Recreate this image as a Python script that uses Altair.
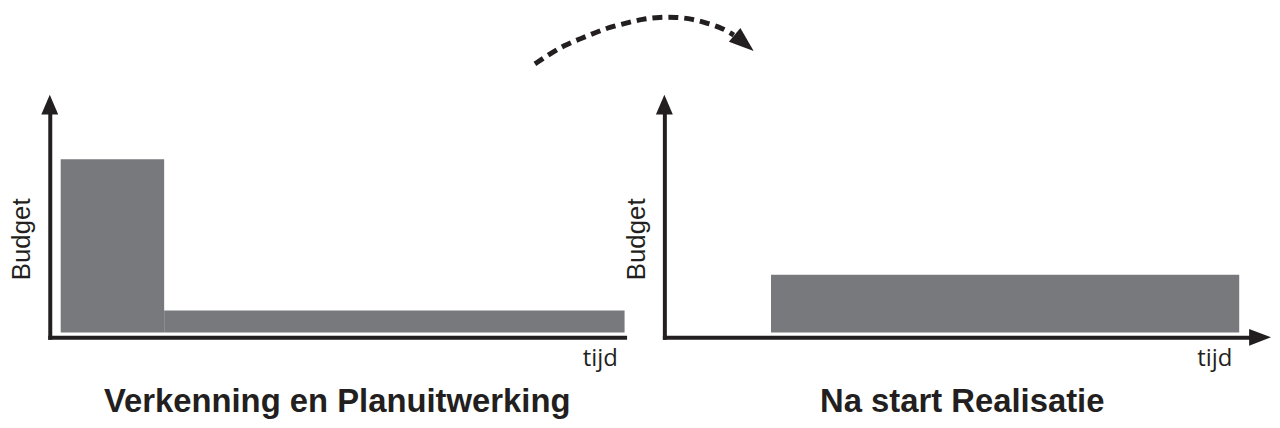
import altair as alt
import pandas as pd

INK = "#231f20"
GRAY = "#77797c"

# ---- data (time 0-100 along each x axis, budget 0-100 along each y axis) ----
left_t0 = [1.9, 19.9]
left_t1 = [19.9, 100.0]
left_b1 = [76.5, 11.5]
base_b = 2.1

right_t0 = [17.9]
right_t1 = [96.5]
right_b1 = [26.9]

# dashed arc (in left-panel units, running above the plots toward the right panel)
arc_t = [84.4, 87.0, 89.6, 92.2, 94.8, 97.4, 100.3, 103.1, 106.1, 109.0, 111.8, 114.4, 117.0, 119.0]
arc_b = [117.5, 121.8, 125.6, 128.2, 130.8, 133.3, 135.0, 136.8, 137.6, 137.6, 136.8, 135.0, 132.9, 129.9]
arc_head_t = [120.8]
arc_head_b = [126.5]

titles = ["Verkenning en Planuitwerking", "Na start Realisatie"]

UP = "M0,-1L0.85,1L-0.85,1Z"
RIGHT = "M1,0L-1,0.77L-1,-0.77Z"
HEAD = "M1,0L-1,0.72L-1,-0.72Z"

XA = alt.Axis(domain=True, ticks=False, labels=False, grid=False,
              domainColor=INK, domainWidth=4, domainCap="square",
              titleX=553, titleY=28, titleAlign="center", titleBaseline="alphabetic",
              titleFont="Open Sans", titleFontSize=24, titleFontWeight="normal",
              titleColor=INK)
YA = alt.Axis(domain=True, ticks=False, labels=False, grid=False,
              domainColor=INK, domainWidth=4, domainCap="square",
              titleX=-20, titleY=135, titleAngle=270, titleAlign="center",
              titleBaseline="alphabetic",
              titleFont="Liberation Sans", titleFontSize=26, titleFontWeight="normal",
              titleColor=INK)
XS = alt.Scale(domain=[0, 100], nice=False, zero=False)
YS = alt.Scale(domain=[0, 100], nice=False, zero=False)


def enc_xy():
    return dict(x=alt.X("t:Q", scale=XS, axis=XA, title="tijd"),
                y=alt.Y("b:Q", scale=YS, axis=YA, title="Budget"))


def panel(t0, t1, b1, title, width, x_arrow, extra=None):
    bars = pd.DataFrame({"t": t0, "t2": t1, "b": [base_b] * len(t0), "b2": b1})
    layers = [
        alt.Chart(bars).mark_rect(color=GRAY).encode(x2="t2:Q", y2="b2:Q", **enc_xy()),
        alt.Chart(pd.DataFrame({"t": [0], "b": [100]})).mark_point(
            shape=UP, size=400, filled=True, opacity=1, color=INK, strokeWidth=0
        ).encode(**enc_xy()),
    ]
    if x_arrow:
        layers.append(
            alt.Chart(pd.DataFrame({"t": [100], "b": [0]})).mark_point(
                shape=RIGHT, size=484, filled=True, opacity=1, color=INK, strokeWidth=0
            ).encode(**enc_xy())
        )
    if extra:
        layers.extend(extra)
    return alt.layer(*layers).properties(
        width=width, height=234,
        title=alt.TitleParams(title, orient="bottom", anchor="middle", frame="group",
                              font="Liberation Sans", fontSize=33, fontWeight="bold",
                              color=INK, offset=42, baseline="alphabetic"),
    )


arc = alt.Chart(pd.DataFrame({"t": arc_t, "b": arc_b})).mark_line(
    color=INK, strokeWidth=5, strokeDash=[10, 6], interpolate="basis", strokeCap="butt"
).encode(**enc_xy())

arc_head = alt.Chart(pd.DataFrame({"t": arc_head_t, "b": arc_head_b})).mark_point(
    shape=HEAD, size=625, angle=40, filled=True, opacity=1, color=INK, strokeWidth=0
).encode(**enc_xy())

left = panel(left_t0, left_t1, left_b1, titles[0], 578, False, extra=[arc, arc_head])
right = panel(right_t0, right_t1, right_b1, titles[1], 599, True)

chart = alt.hconcat(left, right, spacing=40, bounds="flush").properties(
    padding={"left": 0, "top": -3, "right": 0, "bottom": 0}
).configure_view(stroke="transparent")

chart.save("out.html", embed_options={"renderer": "svg", "actions": False})
